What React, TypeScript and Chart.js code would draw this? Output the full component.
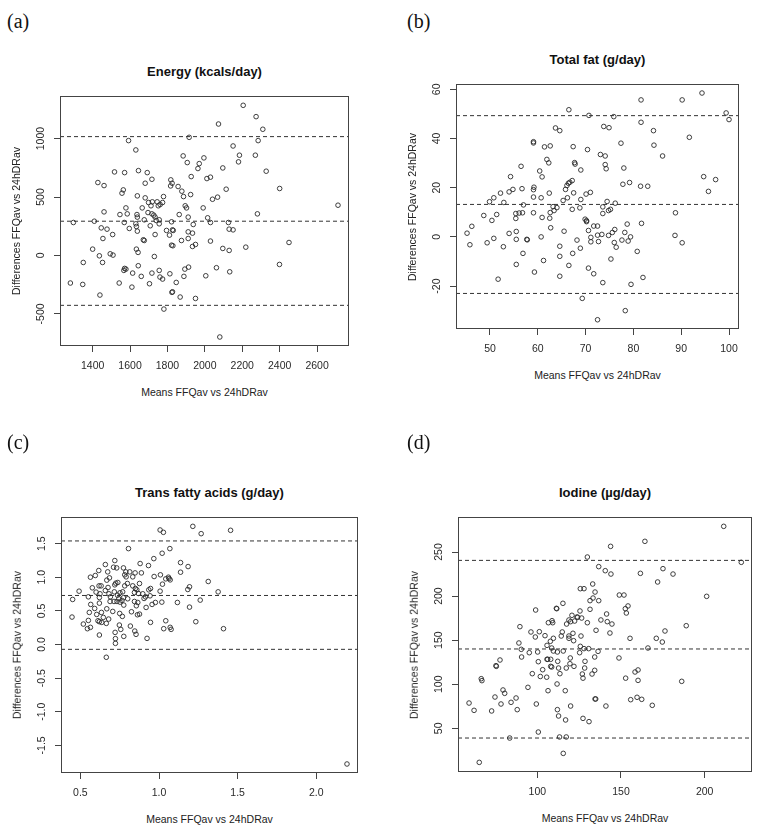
import React, { useEffect, useRef } from "react";
import { Chart, registerables } from "chart.js";

Chart.register(...registerables);

// ---------------- DATA ----------------
// (a) Energy (kcals/day): [mean, difference]
const energyPoints: [number, number][] = [
  [2205,1285],[2274,1188],[2073,1125],[2310,1080],[1916,1011],[1592,983],[2285,983],[1631,903],[2151,937],[1884,852],[1995,835],[2185,858],[2270,858],[2180,801],[1906,795],[1970,786],[1963,744],[2096,749],[2328,721],[1517,715],[1571,709],[1645,726],[1692,709],[1927,675],[2011,658],[2030,670],[1818,647],[1717,652],[1428,624],[1461,598],[1681,618],[1825,618],[1817,595],[1857,590],[2114,567],[1564,561],[1557,533],[1877,550],[2400,573],[1924,521],[1639,510],[1886,504],[2068,499],[2041,481],[1681,493],[1779,504],[1719,459],[1699,453],[1745,459],[1774,453],[1712,425],[1761,436],[1751,425],[1895,425],[1902,407],[1991,407],[1578,407],[1665,407],[2712,430],[1637,350],[1639,328],[1546,350],[1585,356],[1717,356],[1727,345],[1734,328],[1696,367],[1863,350],[2281,356],[1461,373],[1569,282],[1676,305],[1740,299],[1756,305],[1911,328],[2015,322],[1409,293],[1297,282],[1822,288],[2030,282],[2126,282],[1631,271],[1634,248],[1708,254],[1756,271],[1938,265],[1446,236],[1477,225],[1596,231],[1639,208],[1795,214],[1827,219],[1831,214],[1911,202],[1934,191],[2130,225],[2151,219],[1507,179],[1734,179],[1811,174],[1455,145],[1911,145],[1671,134],[1676,128],[1875,128],[2030,123],[1822,88],[1829,83],[1950,94],[1934,77],[1400,54],[1634,54],[1643,26],[2219,71],[2096,60],[2130,43],[2450,111],[1494,14],[1509,3],[1436,-3],[1730,-9],[1350,-60],[1453,-60],[1644,-88],[2399,-77],[1571,-111],[1567,-128],[1578,-117],[1893,-117],[1913,-100],[2062,-105],[1756,-128],[1614,-151],[1717,-151],[1813,-157],[2005,-174],[2133,-140],[1660,-179],[1888,-179],[1760,-185],[1774,-202],[1281,-236],[1542,-236],[1704,-242],[1847,-231],[1347,-248],[1610,-271],[1824,-316],[1827,-311],[1439,-339],[1868,-356],[1950,-368],[1781,-459],[2080,-698]
];
const energyLimits = [1017, 293, -427];
const energyXTicks = [1400, 1600, 1800, 2000, 2200, 2400, 2600];
const energyYTicks = [-500, 0, 500, 1000];

// (b) Total fat (g/day)
const fatPoints: [number, number][] = [
  [94.35,58.5],[81.6,55.7],[90.2,55.7],[66.5,51.7],[70.7,49.4],[75.9,48.9],[99.4,50.4],[100.0,47.7],[81.6,46.6],[63.7,44.3],[64.6,43.2],[73.8,44.9],[74.9,44.4],[84.2,43.2],[91.7,40.5],[59.1,38.7],[59.1,38.2],[77.4,38.1],[84.3,37.3],[61.4,36.6],[62.6,37.0],[67.4,36.7],[70.4,35.5],[73.1,33.5],[74.1,32.9],[86.1,32.9],[61.9,31.5],[62.3,30.1],[67.7,30.2],[67.8,29.6],[74.1,29.4],[74.3,27.7],[78.0,28.0],[56.5,28.7],[69.0,27.2],[60.4,26.8],[60.9,24.4],[54.3,24.5],[94.7,24.5],[97.2,23.3],[79.2,22.1],[67.2,22.9],[66.4,21.8],[66.7,22.2],[66.1,20.9],[65.8,19.3],[77.8,21.4],[81.5,20.6],[83.0,20.6],[59.2,20.2],[59.1,19.2],[56.7,19.6],[54.8,19.3],[52.2,17.8],[54.0,18.3],[62.4,17.8],[67.5,17.9],[70.1,17.4],[71.0,18.1],[95.7,18.5],[50.8,15.9],[59.1,16.2],[60.7,15.9],[66.2,15.9],[65.3,14.8],[69.0,15.2],[49.9,14.3],[52.9,14.0],[74.5,14.4],[76.2,13.7],[57.0,13.0],[63.2,12.3],[64.0,11.9],[73.6,12.2],[63.4,10.7],[67.2,11.2],[68.8,11.8],[75.2,11.2],[74.8,10.7],[51.4,9.1],[55.4,9.5],[56.1,9.7],[56.8,9.8],[59.1,9.8],[62.6,9.9],[73.6,9.5],[88.8,9.8],[48.7,8.7],[60.9,7.9],[62.5,7.6],[55.4,7.5],[50.4,6.7],[69.9,7.2],[70.2,6.6],[70.2,6.2],[81.7,5.5],[78.7,5.2],[71.7,4.4],[72.5,4.4],[46.2,4.3],[62.7,3.7],[70.6,2.6],[76.1,3.0],[65.5,2.3],[55.5,2.2],[54.0,1.4],[45.2,1.5],[78.2,1.8],[73.4,1.0],[72.5,0.7],[75.6,1.8],[74.8,0.6],[88.7,0.6],[60.7,0],[71.1,-0.2],[79.4,0],[50.8,-0.6],[57.7,-1.0],[57.8,-1.2],[55.5,-1.0],[68.2,-1.3],[77.6,-1.3],[71.1,-2.0],[72.7,-1.9],[76.0,-2.3],[78.9,-1.7],[90.2,-2.4],[49.4,-2.4],[45.8,-3.2],[76.4,-4.2],[52.8,-4.0],[64.6,-3.8],[68.9,-4.6],[80.8,-5.9],[56.9,-6.7],[67.3,-6.7],[64.6,-7.9],[75.3,-9.0],[61.2,-9.6],[55.5,-11.2],[66.5,-11.6],[70.6,-12.7],[59.3,-14.3],[71.7,-15.0],[64.6,-16.0],[82.0,-16.5],[51.7,-17.2],[73.6,-18.6],[79.5,-19.3],[69.3,-25.0],[78.3,-30.0],[72.5,-33.7]
];
const fatLimits = [49.3, 13.2, -23.0];
const fatXTicks = [50, 60, 70, 80, 90, 100];
const fatYTicks = [-20, 0, 20, 40, 60];

// (c) Trans fatty acids (g/day)
const transPoints: [number, number][] = [
  [1.215,1.757],[1.007,1.703],[1.028,1.668],[1.268,1.648],[1.455,1.698],[0.806,1.426],[1.069,1.426],[1.020,1.357],[0.967,1.277],[0.719,1.248],[1.137,1.218],[0.880,1.204],[0.659,1.189],[0.933,1.174],[1.185,1.159],[0.711,1.149],[0.731,1.139],[0.774,1.139],[0.617,1.100],[0.674,1.080],[0.789,1.080],[0.814,1.080],[1.137,1.075],[0.848,1.065],[0.888,1.065],[0.782,1.036],[0.595,1.026],[0.564,1.001],[0.685,0.991],[0.969,1.011],[1.009,1.036],[0.791,1.006],[0.833,1.006],[1.060,1.001],[1.064,0.981],[1.071,0.961],[1.043,0.976],[0.668,0.957],[1.313,0.937],[0.738,0.922],[0.725,0.912],[0.799,0.907],[0.876,0.907],[0.619,0.872],[0.719,0.887],[1.022,0.897],[0.782,0.872],[0.833,0.872],[0.632,0.872],[0.576,0.843],[1.194,0.858],[0.492,0.793],[0.850,0.833],[0.859,0.813],[1.183,0.818],[1.376,0.783],[0.946,0.833],[0.935,0.813],[1.007,0.793],[0.659,0.803],[0.600,0.779],[0.716,0.783],[0.752,0.769],[0.769,0.783],[0.625,0.754],[0.682,0.754],[0.897,0.754],[0.844,0.774],[0.691,0.709],[0.621,0.699],[0.551,0.709],[0.914,0.709],[0.905,0.685],[0.943,0.724],[0.744,0.680],[0.774,0.695],[0.801,0.680],[0.451,0.670],[1.262,0.660],[0.689,0.640],[0.714,0.640],[0.733,0.640],[0.752,0.630],[0.765,0.655],[0.844,0.640],[0.865,0.625],[1.018,0.630],[1.117,0.625],[0.977,0.625],[0.621,0.615],[0.566,0.596],[0.776,0.586],[0.956,0.596],[0.856,0.576],[1.194,0.556],[0.918,0.551],[0.591,0.536],[0.668,0.531],[0.557,0.477],[0.634,0.477],[0.750,0.462],[0.706,0.492],[0.863,0.442],[0.876,0.452],[0.825,0.487],[0.604,0.447],[0.767,0.418],[0.447,0.408],[0.646,0.403],[0.680,0.378],[0.551,0.358],[0.612,0.353],[1.043,0.353],[0.636,0.329],[0.519,0.304],[0.946,0.329],[0.621,0.339],[1.234,0.339],[0.665,0.314],[0.748,0.289],[0.818,0.274],[0.564,0.255],[0.545,0.235],[0.757,0.225],[1.030,0.235],[1.071,0.255],[1.077,0.225],[1.410,0.235],[0.846,0.200],[0.721,0.180],[0.621,0.141],[0.854,0.151],[0.776,0.121],[0.924,0.091],[0.723,0.087],[0.723,0.017],[0.665,-0.190],[2.195,-1.777],[0.869,0.759],[0.736,0.734],[0.676,0.848]
];
const transLimits = [1.54, 0.729, -0.072];
const transXTicks = [0.5, 1.0, 1.5, 2.0];
const transYTicks = [-1.5, -1.0, -0.5, 0.0, 0.5, 1.0, 1.5];

// (d) Iodine (µg/day)
const iodinePoints: [number, number][] = [
  [211.4,279.1],[164.3,262.1],[143.8,256.4],[129.9,244.3],[221.9,238.3],[136.7,233.4],[175.1,231.1],[140.6,228.8],[144.0,225.0],[161.6,225.8],[181.1,225.0],[171.9,216.0],[133.1,213.7],[125.7,208.4],[127.9,208.4],[134.5,204.6],[149.0,201.2],[151.8,201.2],[201.2,199.7],[133.3,197.8],[131.5,194.8],[136.7,194.8],[115.3,191.8],[154.2,188.8],[111.4,186.1],[111.6,185.7],[131.5,185.0],[152.6,185.7],[99.0,184.2],[125.5,183.1],[153.2,180.8],[141.4,179.7],[120.7,178.2],[123.7,176.3],[124.1,175.9],[118.9,172.9],[126.5,175.1],[108.8,172.1],[138.0,172.9],[141.8,171.0],[119.9,171.0],[122.3,171.7],[109.2,169.8],[106.6,169.8],[129.9,169.8],[144.6,168.3],[117.5,168.3],[189.0,166.4],[89.6,165.3],[135.1,161.2],[176.3,160.4],[96.2,159.3],[101.2,159.6],[114.9,159.3],[121.3,157.8],[143.4,158.1],[98.8,153.6],[104.6,155.1],[114.3,154.7],[118.9,154.7],[126.1,154.7],[109.6,152.1],[118.9,152.1],[155.4,152.1],[171.1,152.1],[121.7,149.4],[174.7,147.9],[107.8,148.7],[89.0,146.8],[125.7,143.0],[105.8,144.1],[130.7,140.4],[127.9,140.4],[166.1,141.1],[108.6,141.1],[90.4,139.6],[109.6,137.7],[100.2,136.6],[112.0,136.6],[115.5,137.7],[125.3,135.8],[95.2,135.8],[136.3,137.3],[105.8,128.3],[106.2,128.3],[108.0,128.3],[77.7,127.5],[90.6,130.9],[119.7,129.8],[134.3,130.9],[148.8,129.8],[100.6,125.6],[128.5,126.0],[112.2,126.0],[75.3,121.1],[75.5,120.3],[108.0,120.3],[108.6,119.6],[119.5,123.3],[121.9,120.3],[112.7,118.4],[117.3,118.4],[128.3,118.4],[103.2,116.5],[134.3,115.8],[160.2,116.2],[158.4,113.9],[97.0,112.0],[113.5,112.0],[132.7,111.6],[126.9,111.6],[101.8,108.8],[105.6,108.0],[127.3,106.9],[152.8,106.9],[66.5,106.3],[66.9,104.1],[160.2,104.4],[186.3,103.3],[94.4,96.5],[106.4,92.7],[116.7,92.7],[79.5,93.5],[80.5,89.7],[111.8,100.3],[74.7,85.5],[87.3,84.4],[84.3,79.5],[78.3,77.6],[59.2,78.7],[62.2,70.4],[72.7,69.7],[88.0,71.2],[99.4,77.6],[119.9,75.3],[134.5,83.3],[134.9,83.3],[141.0,75.3],[155.8,82.5],[159.6,85.2],[162.4,82.9],[168.7,76.1],[112.0,71.2],[112.7,64.0],[116.9,59.5],[127.3,61.3],[130.9,57.6],[100.6,45.8],[83.5,39.0],[113.3,40.2],[117.3,40.2],[115.5,21.6],[65.3,11.4]
];
const iodineLimits = [240.5, 140.0, 39.0];
const iodineXTicks = [100, 150, 200];
const iodineYTicks = [50, 100, 150, 200, 250];

const xAxisTitle = "Means FFQav vs 24hDRav";
const yAxisTitle = "Differences FFQav vs 24hDRav";

// ---------------- LAYOUT ----------------
const PAD_L = 58, PAD_T = 6, PAD_R = 6, PAD_B = 30;
const SANS = '"Liberation Sans", Arial, Helvetica, sans-serif';
const SERIF = '"Liberation Serif", "Times New Roman", serif';

type Spec = {
  tag: string;
  tagPos: [number, number];
  title: string;
  box: { l: number; t: number; r: number; b: number };
  xRange: [number, number];
  yRange: [number, number];
  xTicks: number[];
  yTicks: number[];
  decimals: number;
  points: [number, number][];
  limits: number[];
};

const specs: Spec[] = [
  { tag: "(a)", tagPos: [7, 11], title: "Energy (kcals/day)", box: { l: 60, t: 96, r: 349, b: 346 },
    xRange: [1225.5, 2770.8], yRange: [-775, 1364.7], xTicks: energyXTicks, yTicks: energyYTicks, decimals: 0,
    points: energyPoints, limits: energyLimits },
  { tag: "(b)", tagPos: [407, 11], title: "Total fat (g/day)", box: { l: 456, t: 84, r: 739, b: 329 },
    xRange: [42.89, 102.09], yRange: [-37.46, 62.17], xTicks: fatXTicks, yTicks: fatYTicks, decimals: 0,
    points: fatPoints, limits: fatLimits },
  { tag: "(c)", tagPos: [7, 432], title: "Trans fatty acids (g/day)", box: { l: 61, t: 517, r: 358, b: 773 },
    xRange: [0.377, 2.265], yRange: [-1.911, 1.896], xTicks: transXTicks, yTicks: transYTicks, decimals: 1,
    points: transPoints, limits: transLimits },
  { tag: "(d)", tagPos: [407, 432], title: "Iodine (\u00b5g/day)", box: { l: 458, t: 517, r: 752, b: 772 },
    xRange: [52.6, 228.3], yRange: [0.47, 289.7], xTicks: iodineXTicks, yTicks: iodineYTicks, decimals: 0,
    points: iodinePoints, limits: iodineLimits },
];

function Panel({ spec }: { spec: Spec }) {
  const ref = useRef<HTMLCanvasElement | null>(null);
  const w = spec.box.r - spec.box.l + PAD_L + PAD_R;
  const h = spec.box.b - spec.box.t + PAD_T + PAD_B;

  useEffect(() => {
    if (!ref.current) return;
    const fmt = (v: number) => v.toFixed(spec.decimals);
    const frame = {
      id: "rframe",
      afterDraw(chart: any) {
        const { ctx, chartArea: a, scales } = chart;
        ctx.save();
        ctx.strokeStyle = "#444";
        ctx.lineWidth = 1;
        const l = Math.round(a.left) + 0.5, t = Math.round(a.top) + 0.5;
        const r = Math.round(a.right) - 0.5, b = Math.round(a.bottom) - 0.5;
        ctx.strokeRect(l, t, r - l, b - t);
        ctx.fillStyle = "#2a2a2a";
        ctx.font = `10.5px ${SANS}`;
        ctx.textAlign = "center";
        ctx.textBaseline = "middle";
        spec.xTicks.forEach((v) => {
          const x = scales.x.getPixelForValue(v);
          ctx.fillText(fmt(v), x, a.bottom + 20);
        });
        spec.yTicks.forEach((v) => {
          const y = scales.y.getPixelForValue(v);
          ctx.save();
          ctx.translate(a.left - 19, y);
          ctx.rotate(-Math.PI / 2);
          ctx.fillText(fmt(v), 0, 0);
          ctx.restore();
        });
        ctx.restore();
      },
    };

    const limitSets = spec.limits.map((v) => ({
      type: "line" as const,
      data: [{ x: spec.xRange[0], y: v }, { x: spec.xRange[1], y: v }],
      borderColor: "#333",
      borderWidth: 1,
      borderDash: [4, 3],
      pointRadius: 0,
      fill: false,
    }));

    const chart = new Chart(ref.current, {
      type: "scatter",
      data: {
        datasets: [
          {
            type: "scatter",
            data: spec.points.map(([x, y]) => ({ x, y })),
            pointStyle: "circle",
            pointRadius: 2.3,
            pointHoverRadius: 2.3,
            pointBorderWidth: 0.9,
            borderColor: "#2a2a2a",
            backgroundColor: "rgba(0,0,0,0)",
          } as any,
          ...(limitSets as any[]),
        ],
      },
      options: {
        animation: false,
        responsive: false,
        maintainAspectRatio: false,
        events: [],
        layout: { padding: { left: 0, top: PAD_T, right: PAD_R, bottom: 0 } },
        plugins: { legend: { display: false }, tooltip: { enabled: false }, title: { display: false } },
        scales: {
          x: {
            type: "linear",
            min: spec.xRange[0],
            max: spec.xRange[1],
            afterBuildTicks: (s: any) => { s.ticks = spec.xTicks.map((v) => ({ value: v })); },
            afterFit: (s: any) => { s.height = PAD_B; },
            ticks: { display: false },
            grid: { drawOnChartArea: false, drawTicks: true, tickLength: 6, color: "#444", lineWidth: 1 },
            border: { display: false },
          },
          y: {
            type: "linear",
            min: spec.yRange[0],
            max: spec.yRange[1],
            afterBuildTicks: (s: any) => { s.ticks = spec.yTicks.map((v) => ({ value: v })); },
            afterFit: (s: any) => { s.width = PAD_L; },
            ticks: { display: false },
            grid: { drawOnChartArea: false, drawTicks: true, tickLength: 6, color: "#444", lineWidth: 1 },
            border: { display: false },
          },
        },
      } as any,
      plugins: [frame],
    });
    return () => chart.destroy();
  }, [spec]);

  const cx = (spec.box.l + spec.box.r) / 2;
  const cy = (spec.box.t + spec.box.b) / 2;
  const center: React.CSSProperties = {
    position: "absolute",
    transform: "translate(-50%, -50%)",
    whiteSpace: "nowrap",
    lineHeight: 1,
    fontFamily: SANS,
    color: "#222",
  };

  return (
    <>
      <canvas
        ref={ref}
        width={w}
        height={h}
        style={{ position: "absolute", left: spec.box.l - PAD_L, top: spec.box.t - PAD_T, width: w, height: h }}
      />
      <div style={{ position: "absolute", left: spec.tagPos[0], top: spec.tagPos[1], fontFamily: SERIF, fontSize: 20, lineHeight: 1, color: "#111" }}>
        {spec.tag}
      </div>
      <div style={{ ...center, left: cx, top: spec.box.t - 25, fontSize: 13, fontWeight: "bold", color: "#111" }}>
        {spec.title}
      </div>
      <div style={{ ...center, left: cx, top: spec.box.b + 45.5, fontSize: 10.5 }}>{xAxisTitle}</div>
      <div style={{ ...center, left: spec.box.l - 44, top: cy, fontSize: 10.5, transform: "translate(-50%, -50%) rotate(-90deg)" }}>
        {yAxisTitle}
      </div>
    </>
  );
}

export default function App() {
  return (
    <div style={{ position: "fixed", left: 0, top: 0, width: 759, height: 830, background: "#fff", overflow: "hidden" }}>
      {specs.map((s) => (
        <Panel key={s.tag} spec={s} />
      ))}
    </div>
  );
}
